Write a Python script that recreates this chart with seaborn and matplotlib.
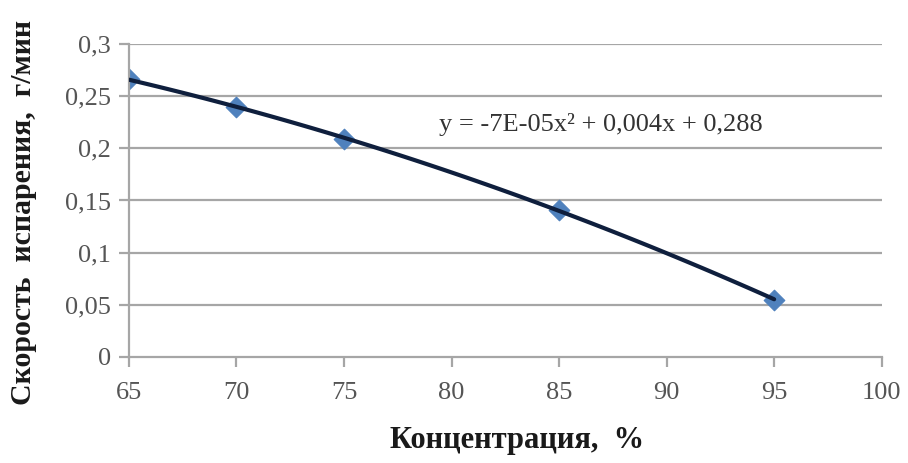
import numpy as np
import pandas as pd
import matplotlib
matplotlib.use("Agg")
import matplotlib.pyplot as plt
import seaborn as sns

# Data
concentration = [65, 70, 75, 85, 95]
rate = [0.266, 0.240, 0.209, 0.141, 0.055]
x_ticks = [65, 70, 75, 80, 85, 90, 95, 100]
x_tick_labels = ["65", "70", "75", "80", "85", "90", "95", "100"]
y_ticks = [0, 0.05, 0.1, 0.15, 0.2, 0.25, 0.3]
y_tick_labels = ["0", "0,05", "0,1", "0,15", "0,2", "0,25", "0,3"]
equation = "y = -7E-05x² + 0,004x + 0,288"
x_label = "Концентрация,  %"
y_label = "Скорость  испарения,  г/мин"

df = pd.DataFrame({"x": concentration, "y": rate})

sns.set_theme(style="white")
plt.rcParams["font.family"] = ["Liberation Serif", "DejaVu Serif"]

fig = plt.figure(figsize=(9.08, 4.63), dpi=100)
ax = fig.add_axes([0.142, 0.229, 0.829, 0.676])

grid_c = "#a6a6a6"
for yt in y_ticks[1:]:
    ax.axhline(yt, color=grid_c, lw=1.6, zorder=0)

sns.scatterplot(data=df, x="x", y="y", marker="D", s=110, color="#4f81bd",
                edgecolor="#4f81bd", ax=ax, zorder=2, legend=False)
sns.regplot(data=df, x="x", y="y", order=2, ci=None, scatter=False, ax=ax,
            line_kws=dict(color="#0f1f3d", lw=3, zorder=3))

ax.set_xlim(65, 100)
ax.set_ylim(0, 0.3)
ax.set_xticks(x_ticks)
ax.set_xticklabels(x_tick_labels)
ax.set_yticks(y_ticks)
ax.set_yticklabels(y_tick_labels)

for s in ["top", "right"]:
    ax.spines[s].set_visible(False)
for s in ["left", "bottom"]:
    ax.spines[s].set_color(grid_c)
    ax.spines[s].set_linewidth(1.6)

ax.tick_params(axis="both", which="major", direction="out", length=7, width=1.6,
               color=grid_c, labelsize=19, labelcolor="#555555", pad=6)
ax.tick_params(axis="x", bottom=True, pad=11)
ax.tick_params(axis="y", left=True)

ax.set_xlabel(x_label, fontsize=22, fontweight="bold", color="#1a1a1a")
ax.xaxis.set_label_coords(0.515, -0.222)
ax.set_ylabel(y_label, fontsize=21.5, fontweight="bold", color="#1a1a1a",
              va="center")
ax.yaxis.set_label_coords(-0.14, 0.463)

ax.text(79.4, 0.223, equation, fontsize=19, color="#333333", va="center", ha="left")

fig.savefig("out.png", dpi=100)
